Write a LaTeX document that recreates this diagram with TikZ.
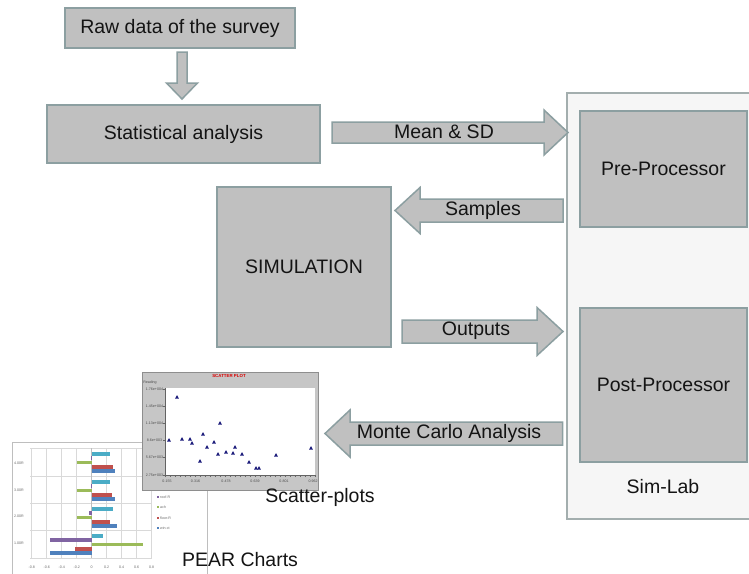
\documentclass[tikz,border=0pt]{standalone}
\usepackage{fontspec}
\setmainfont{Liberation Sans}
\usetikzlibrary{calc}
\definecolor{boxfill}{HTML}{C0C0C0}
\definecolor{boxline}{HTML}{8C9FA1}
\definecolor{labfill}{HTML}{F6F6F6}
\definecolor{labline}{HTML}{A3AEAE}
\definecolor{txt}{HTML}{141414}
\definecolor{scgray}{HTML}{C6C6C6}
\definecolor{scline}{HTML}{8E8E8E}
\definecolor{navy}{HTML}{1A1A7A}
\definecolor{grid}{HTML}{D9D9D9}
\definecolor{frame}{HTML}{BEBEBE}
\definecolor{cyanb}{HTML}{4BACC6}
\definecolor{purb}{HTML}{8064A2}
\definecolor{greenb}{HTML}{9BBB59}
\definecolor{redb}{HTML}{C0504D}
\definecolor{blueb}{HTML}{4F81BD}
\definecolor{ticktxt}{HTML}{6A6A6A}
\newcommand\blockarr[5]{%
  \coordinate (h) at ($(#2)!#5!(#1)$);
  \draw[arrowbody] ($(#1)!#3!90:(#2)$) -- ($(h)!#3!-90:(#1)$) -- ($(h)!#4!-90:(#1)$) -- (#2)
    -- ($(h)!#4!90:(#1)$) -- ($(h)!#3!90:(#1)$) -- ($(#1)!#3!-90:(#2)$) -- cycle;
}
\tikzset{
  mainfont/.style={font=\fontsize{19.5}{23}\selectfont, text=txt},
  graybox/.style={mainfont, draw=boxline, fill=boxfill, line width=1.8pt, inner sep=0pt},
  arrowbody/.style={draw=boxline, fill=boxfill, line width=1.5pt, line join=miter},
  lbl/.style={mainfont, inner sep=0pt},
  tiny/.style={font=\fontsize{3.6}{4}\selectfont, text=ticktxt, inner sep=0pt},
}
\begin{document}
\begin{tikzpicture}[x=1pt,y=-1pt]
\useasboundingbox (0,0) rectangle (749,573);
\fill[white] (0,0) rectangle (749,573);

% Sim-Lab container
\node[draw=labline, fill=labfill, line width=1.5pt, minimum width=183pt, minimum height=426pt, inner sep=0pt] (simlab) at (658.5,306) {};
\node[graybox, minimum width=167pt, minimum height=116pt] (pre) at (663.5,169) {Pre-Processor};
\node[graybox, minimum width=167pt, minimum height=154pt] (post) at (663.5,385) {Post-Processor};
\node[lbl] (simlabl) at (663,487) {Sim-Lab};

% left boxes
\node[graybox, minimum width=230pt, minimum height=40pt] (raw) at (180,28) {Raw data of the survey};
\node[graybox, minimum width=273pt, minimum height=58pt] (stat) at (183.5,134) {Statistical analysis};
\node[graybox, minimum width=174pt, minimum height=160pt] (sim) at (304,267) {SIMULATION};

% arrow end points
\coordinate (d1) at (182,52);
\coordinate (d2) at (182,99);
\coordinate (m1) at (332,132.5);
\coordinate (m2) at (568,132.5);
\coordinate (s1) at (563,210.5);
\coordinate (s2) at (395,210.5);
\coordinate (o1) at (402,331.5);
\coordinate (o2) at (563,331.5);
\coordinate (c1) at (562.5,433.5);
\coordinate (c2) at (325,433.5);

\blockarr{d1}{d2}{5pt}{15.5pt}{16pt}
\blockarr{m1}{m2}{10.5pt}{22.5pt}{24pt}
\blockarr{s1}{s2}{11.5pt}{23pt}{25pt}
\blockarr{o1}{o2}{11.5pt}{24pt}{26pt}
\blockarr{c1}{c2}{11.5pt}{23.5pt}{25pt}

\node[lbl] (lmean) at (444,132) {Mean \& SD};
\node[lbl] (lsamp) at (483,210) {Samples};
\node[lbl] (lout) at (476,331) {Outputs};
\node[lbl] (lmc) at (449,433.5) {Monte Carlo Analysis};

% PEAR chart
\draw[frame, fill=white, line width=0.6pt] (12,442) rectangle (207,585);
\foreach \v/\tt in {-0.8/-0.8,-0.6/-0.6,-0.4/-0.4,-0.2/-0.2,0/0,0.2/0.2,0.4/0.4,0.6/0.6,0.8/0.8} {
  \draw[grid, line width=0.5pt] ({91.7+75*\v},448) -- ({91.7+75*\v},558);
  \node[tiny] at ({91.7+75*\v},567) {\tt};
}
\foreach \yy in {448,476,503,530,558} \draw[grid, line width=0.5pt] (30,\yy) -- (152,\yy);
\draw[frame, line width=0.5pt] (91.7,448) -- (91.7,558);
\foreach \T/\a/\b/\c/\d/\e in {448/0.25/-0.01/-0.2/0.28/0.31, 476/0.25/-0.01/-0.2/0.27/0.31, 503/0.28/-0.03/-0.2/0.24/0.34, 530/0.15/-0.55/0.68/-0.22/-0.55} {
  \fill[cyanb] (91.7,{\T+4.1}) rectangle ({91.7+75*\a},{\T+7.9});
  \fill[purb] (91.7,{\T+8.4}) rectangle ({91.7+75*\b},{\T+12.2});
  \fill[greenb] (91.7,{\T+12.6}) rectangle ({91.7+75*\c},{\T+16.4});
  \fill[redb] (91.7,{\T+17.1}) rectangle ({91.7+75*\d},{\T+20.9});
  \fill[blueb] (91.7,{\T+21.1}) rectangle ({91.7+75*\e},{\T+24.9});
}
\node[tiny] (c4) at (19,463) {4.00R};
\node[tiny] (c3) at (19,490) {3.00R};
\node[tiny] (c2l) at (19,516) {2.00R};
\node[tiny] (c1l) at (19,543) {1.00R};
\foreach \yy/\cc/\tt in {497/purb/roof-R, 507/greenb/ach, 518/redb/floor-R, 528/blueb/win-ct} {
  \fill[\cc] (156.5,{\yy-1}) rectangle (158.5,{\yy+1});
  \node[tiny, anchor=west] at (160,\yy) {\tt};
}
\node[lbl] (pear) at (240,560) {PEAR Charts};

% Scatter plot
\draw[scline, fill=scgray, line width=0.5pt] (142,372) rectangle (318,490);
\fill[white] (165,388) rectangle (315,475);
\draw[scline!70!black, line width=0.5pt] (165,388) -- (165,475) -- (315,475);
\node[font=\bfseries\fontsize{4.4}{5}\selectfont, text=red!85!black, inner sep=0pt] (sctitle) at (229,375.5) {SCATTER PLOT};
\node[tiny, text=black!70] at (150,382.5) {Reading};
\foreach \yy/\tt in {389/1.76e+004, 406.5/1.45e+004, 423.5/1.13e+004, 440.5/8.6e+003, 457.5/5.67e+003, 475/2.75e+003} {
  \node[tiny, text=black!70] at (154.5,\yy) {\tt};
  \draw[black!60, line width=0.4pt] (163,\yy) -- (165,\yy);
}
\foreach \xx/\tt in {167/0.155, 195.5/0.316, 226/0.478, 255/0.639, 284/0.801, 313/0.962} {
  \node[tiny, text=black!70] at (\xx,481.5) {\tt};
}
\foreach \xx in {165,170,...,315} \draw[black!60, line width=0.3pt] (\xx,475) -- (\xx,476.5);
\foreach \px/\py in {169/440, 177/397, 182/439, 190/439, 192/443, 200/461, 203/434, 207/447, 214/442, 218/454, 220/423, 226/452, 233/453, 235/447, 242/454, 249/462, 256/468, 259/468, 276/455, 311/448} {
  \fill[navy] ({\px-1.9},{\py+1.5}) -- ({\px+1.9},{\py+1.5}) -- (\px,{\py-1.9}) -- cycle;
}
\node[lbl] (scat) at (320,497) {Scatter-plots};
\end{tikzpicture}
\end{document}
